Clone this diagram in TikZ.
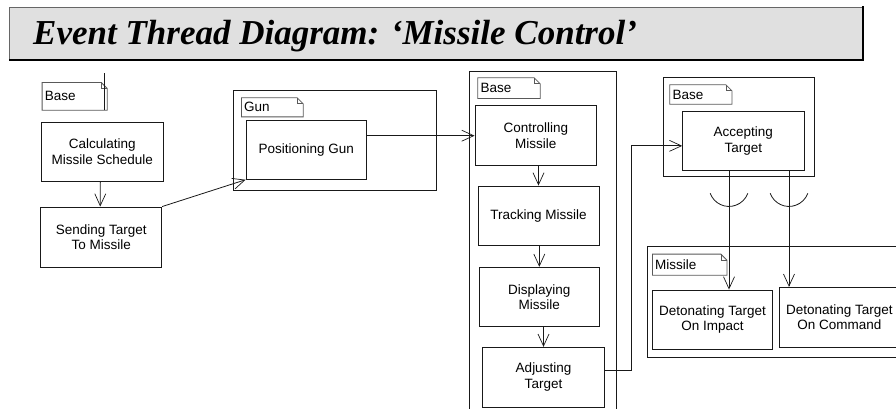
\documentclass[tikz,border=0pt]{standalone}
\usepackage{fontspec}
\setmainfont{Liberation Sans}
\newfontfamily\titlefont{Liberation Serif}
\usetikzlibrary{arrows.meta,calc}

\tikzset{
  x=1pt, y=1pt,
  act/.style={draw=black!90, line width=0.9pt, fill=white, align=center,
    inner sep=0pt, font=\fontsize{13.5}{15.5}\selectfont},
  frame/.style={draw=black!90, line width=0.9pt, inner sep=0pt},
  notebox/.style={inner xsep=2.5pt, inner ysep=0pt, align=left,
    font=\fontsize{13.5}{15}\selectfont},
  notedraw/.style={draw=black!65, line width=0.8pt, fill=white},
  flow/.style={draw=black!90, line width=0.8pt,
    -{Straight Barb[length=12pt,width=11pt,line width=0.7pt]}},
  wire/.style={draw=black!90, line width=0.8pt},
}

% UML note: rectangle with a folded top-right corner
\newcommand\umlnote[4]{% name, centre, width, height
  \node[notebox, text width=#3-5pt, minimum height=#4] (#1) at (#2) {\phantom{X}};
}
\newcommand\drawfold[2]{% name, text
  \draw[notedraw] (#1.north west) -- ([xshift=-6pt]#1.north east)
    -- ([yshift=-6pt]#1.north east) -- (#1.south east) -- (#1.south west) -- cycle;
  \draw[notedraw, fill=none] ([xshift=-6pt]#1.north east)
    -- ([xshift=-6pt,yshift=-6pt]#1.north east) -- ([yshift=-6pt]#1.north east);
  \node[notebox, anchor=west] at (#1.west) {#2};
}

\begin{document}
\begin{tikzpicture}
\path[use as bounding box, clip] (0,0) rectangle (896,-409);

% title bar
\node[fill=black!12, draw=black!60, line width=0.6pt, minimum width=853.4pt,
  minimum height=51.7pt, inner sep=0pt] (title) at (436,-33.15) {};
\draw[line width=2pt, black] ([yshift=-1pt]title.south west) -- ([yshift=-1pt]title.south east)
  -- ([yshift=1pt]title.north east);
\node[anchor=base west, inner sep=0pt,
  font=\titlefont\bfseries\itshape\fontsize{35}{40}\selectfont] (ttext)
  at (33,-45) {Event Thread Diagram: ‘Missile Control’};

% containers
\node[frame, minimum width=203pt, minimum height=100pt] (gunC) at (334.5,-140.7) {};
\node[frame, minimum width=147pt, minimum height=353.3pt] (midC) at (543,-248.35) {};
\node[frame, minimum width=150.7pt, minimum height=98.7pt] (accC) at (738.65,-126.65) {};
\node[frame, minimum width=262.7pt, minimum height=111pt] (misC) at (778.65,-302.2) {};

% notes
\umlnote{baseL}{74.65,-96.35}{64.7pt}{27.3pt}
\drawfold{baseL}{Base}
\draw[wire] ([xshift=-3pt]baseL.south east) -- ++(0,37);
\umlnote{gunN}{272.35,-107.35}{61.3pt}{18.7pt}
\drawfold{gunN}{Gun}
\umlnote{baseM}{509,-88.15}{62pt}{20.3pt}
\drawfold{baseM}{Base}
\umlnote{baseA}{700.85,-94.5}{61.7pt}{19pt}
\drawfold{baseA}{Base}
\umlnote{misN}{689.7,-264.65}{74pt}{20.7pt}
\drawfold{misN}{Missile}

% activities
\node[act, minimum width=121.3pt, minimum height=59.7pt] (calc) at (102.35,-151.85) {Calculating\\Missile Schedule};
\node[act, minimum width=121pt, minimum height=60pt] (send) at (101.2,-237) {Sending Target\\To Missile};
\node[act, minimum width=120.7pt, minimum height=59.3pt] (pos) at (306.35,-149.65) {Positioning Gun};
\node[act, minimum width=121.7pt, minimum height=60pt] (ctrl) at (535.85,-135.7) {Controlling\\Missile};
\node[act, minimum width=121pt, minimum height=59.7pt] (track) at (538.5,-215.85) {Tracking Missile};
\node[act, minimum width=120pt, minimum height=59.4pt] (disp) at (539.3,-297) {Displaying\\Missile};
\node[act, minimum width=121.6pt, minimum height=59.7pt] (adj) at (543.5,-377.15) {Adjusting\\Target};
\node[act, minimum width=121.3pt, minimum height=59.7pt] (accept) at (743.35,-140.85) {Accepting\\Target};
\node[act, minimum width=119.6pt, minimum height=59.3pt] (detI) at (712.5,-319.65) {Detonating Target\\On Impact};
\node[act, minimum width=120pt, minimum height=60pt] (detC) at (839.3,-317.3) {Detonating Target\\On Command};

% event flow
\draw[flow] ([xshift=-2pt]calc.south) -- ([xshift=-1pt]send.north);
\draw[flow] (send.north east) -- (pos.south west);
\draw[flow] (pos.east |- ctrl.west) -- (ctrl.west);
\draw[flow] (track.north |- ctrl.south) -- (track.north);
\draw[flow] (disp.north |- track.south) -- (disp.north);
\draw[flow] (adj.north |- disp.south) -- (adj.north);
\draw[flow] ([yshift=7pt]adj.east) -- ++(26.7,0) |- ([yshift=-5pt]accept.west);

\coordinate (o1) at ([xshift=-14.35pt]accept.south);
\coordinate (o2) at ([xshift=45.65pt]accept.south);
\draw[flow] (o1) -- (o1 |- detI.north);
\draw[flow] (o2) -- (o2 |- detC.north);

% required-interface sockets on the two outgoing threads
\coordinate (s1) at ([yshift=-15.3pt]o1);
\coordinate (s2) at ([yshift=-15.3pt]o2);
\draw[wire] (s1) ++(200:20) arc[start angle=200, end angle=340, radius=20];
\draw[wire] (s2) ++(200:20) arc[start angle=200, end angle=340, radius=20];
\end{tikzpicture}
\end{document}
